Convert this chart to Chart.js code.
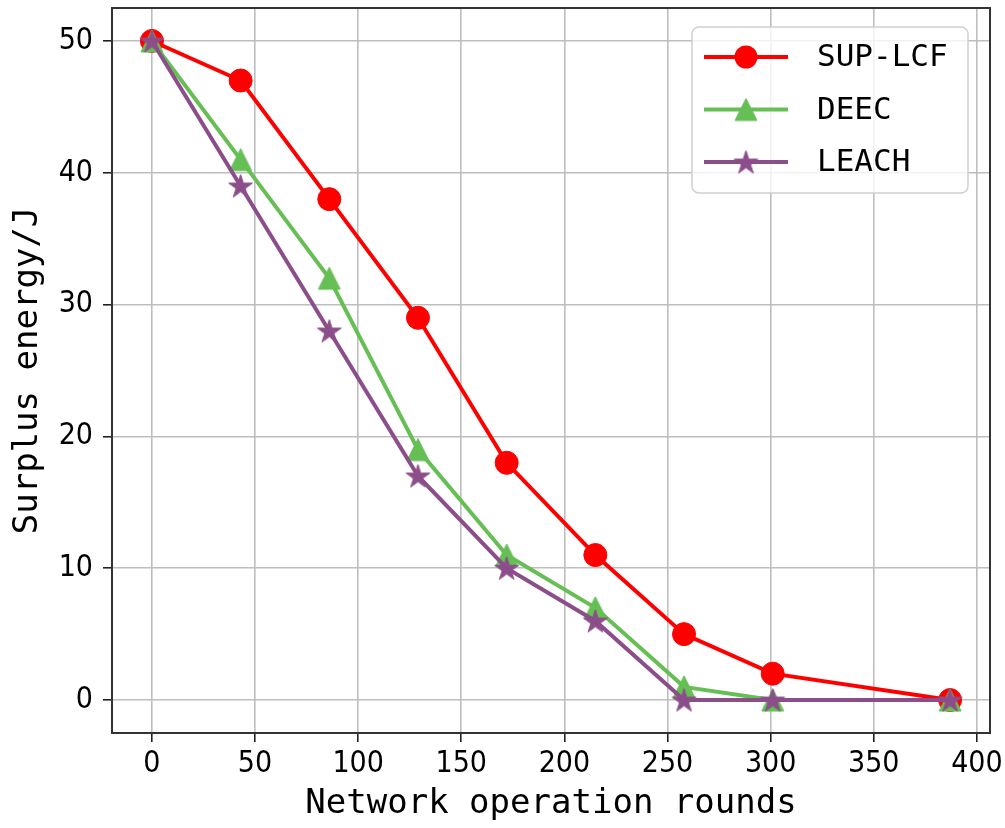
<!DOCTYPE html>
<html><head><meta charset="utf-8">
<style>html,body{margin:0;padding:0;background:#fff;overflow:hidden}#wrap{width:1005px;height:828px}</style>
<script src="https://cdn.jsdelivr.net/npm/chart.js@4.4.0/dist/chart.umd.min.js"></script>
</head><body><div id="wrap"><canvas id="c" width="1005" height="828"></canvas></div>
<script>
const rounds = [0, 43, 86, 129, 172, 215, 258, 301, 387];
const supLcf = [50, 47, 38, 29, 18, 11, 5, 2, 0];
const deec   = [50, 41, 32, 19, 11, 7, 1, 0, 0];
const leach  = [50, 39, 28, 17, 10, 6, 0, 0, 0];
const seriesNames = ['SUP-LCF', 'DEEC', 'LEACH'];
const xTickValues = [0, 50, 100, 150, 200, 250, 300, 350, 400];
const yTickValues = [0, 10, 20, 30, 40, 50];
const xTitle = 'Network operation rounds';
const yTitle = 'Surplus energy/J';

const RED = '#ff0000', GREEN = '#66bf55', PURPLE = '#8c4e8a';

function starImg(color, R) {
  const s = Math.ceil(R * 2 + 4);
  const c = document.createElement('canvas'); c.width = c.height = s;
  const g = c.getContext('2d'); g.translate(s / 2, s / 2 + 1);
  g.beginPath();
  for (let i = 0; i < 10; i++) {
    const r = i % 2 ? R * 0.382 : R;
    const a = -Math.PI / 2 + i * Math.PI / 5;
    const px = Math.cos(a) * r, py = Math.sin(a) * r;
    i ? g.lineTo(px, py) : g.moveTo(px, py);
  }
  g.closePath(); g.fillStyle = color; g.fill();
  g.lineWidth = 1; g.strokeStyle = color; g.stroke();
  return c;
}
function triImg(color, w) {
  const s = Math.ceil(w + 4);
  const c = document.createElement('canvas'); c.width = c.height = s;
  const g = c.getContext('2d'); g.translate(s / 2, s / 2);
  g.beginPath(); g.moveTo(0, -w / 2); g.lineTo(-w / 2, w / 2); g.lineTo(w / 2, w / 2); g.closePath();
  g.fillStyle = color; g.fill(); g.lineWidth = 1; g.strokeStyle = color; g.stroke();
  return c;
}
const starPt = starImg(PURPLE, 12.5);
const triPt = triImg(GREEN, 22);

const toXY = (ys) => ys.map((v, i) => ({x: rounds[i], y: v}));

const tickFont = {family: "'DejaVu Sans Condensed', 'DejaVu Sans', sans-serif", size: 30};
const titleFont = {family: "'DejaVu Sans Mono', monospace", size: 34};
const legendFont = "31px 'DejaVu Sans Mono', monospace";

const framePlugin = {
  id: 'frame',
  afterDatasetsDraw(chart) {
    const {ctx, chartArea: a} = chart;
    ctx.save();
    ctx.strokeStyle = '#333'; ctx.lineWidth = 2;
    ctx.strokeRect(a.left, a.top, a.right - a.left, a.bottom - a.top);
    // legend
    const bx = a.right - 298, by = a.top + 19, bw = 276, bh = 166, rr = 7;
    ctx.beginPath();
    ctx.roundRect(bx, by, bw, bh, rr);
    ctx.fillStyle = 'rgba(255,255,255,0.8)'; ctx.fill();
    ctx.strokeStyle = '#d0d0d0'; ctx.lineWidth = 1.5; ctx.stroke();
    chart.data.datasets.forEach((ds, i) => {
      const y = by + 30 + i * 52.5;
      ctx.strokeStyle = ds.borderColor; ctx.lineWidth = 4;
      ctx.beginPath(); ctx.moveTo(bx + 12, y); ctx.lineTo(bx + 96, y); ctx.stroke();
      const cx = bx + 54;
      if (ds.pointStyle === 'circle') {
        ctx.beginPath(); ctx.arc(cx, y, ds.pointRadius, 0, Math.PI * 2);
        ctx.fillStyle = ds.pointBackgroundColor; ctx.fill();
      } else {
        const img = ds.pointStyle;
        ctx.drawImage(img, cx - img.width / 2, y - img.height / 2);
      }
      ctx.fillStyle = '#000'; ctx.font = legendFont; ctx.textBaseline = 'middle'; ctx.textAlign = 'left';
      ctx.fillText(ds.label, bx + 125, y + 1);
    });
    ctx.restore();
  }
};

new Chart(document.getElementById('c'), {
  type: 'line',
  data: {
    datasets: [
      {label: seriesNames[0], data: toXY(supLcf), borderColor: RED, backgroundColor: RED,
       pointStyle: 'circle', pointRadius: 11.5, pointBackgroundColor: RED, pointBorderColor: RED, pointBorderWidth: 1, order: 2},
      {label: seriesNames[1], data: toXY(deec), borderColor: GREEN, backgroundColor: GREEN,
       pointStyle: triPt, pointRadius: 11, pointBackgroundColor: GREEN, pointBorderColor: GREEN, order: 1},
      {label: seriesNames[2], data: toXY(leach), borderColor: PURPLE, backgroundColor: PURPLE,
       pointStyle: starPt, pointRadius: 12, pointBackgroundColor: PURPLE, pointBorderColor: PURPLE, order: 0}
    ]
  },
  options: {
    responsive: false, animation: false, events: [],
    elements: {line: {borderWidth: 4, tension: 0, fill: false}},
    layout: {autoPadding: false, padding: {left: 0, top: 8, right: 15, bottom: 0}},
    plugins: {legend: {display: false}, tooltip: {enabled: false}},
    scales: {
      x: {
        type: 'linear', min: -19.35, max: 406.35,
        afterBuildTicks: (s) => { s.ticks = xTickValues.map(v => ({value: v})); },
        afterFit: (s) => { s.height = 95; s.paddingLeft = 0; s.paddingRight = 0; },
        ticks: {font: tickFont, color: '#000', padding: 4, autoSkip: false, maxRotation: 0, includeBounds: false},
        grid: {color: '#bebebe', lineWidth: 1.6, tickColor: '#222', tickLength: 9, drawTicks: true},
        border: {display: true, color: '#333', width: 2},
        title: {display: true, text: xTitle, font: titleFont, color: '#000', padding: {top: 0, bottom: 3}}
      },
      y: {
        type: 'linear', min: -2.5, max: 52.5,
        afterBuildTicks: (s) => { s.ticks = yTickValues.map(v => ({value: v})); },
        afterFit: (s) => { s.width = 112; s.paddingTop = 0; s.paddingBottom = 0; },
        ticks: {font: tickFont, color: '#000', padding: 10, autoSkip: false, includeBounds: false},
        grid: {color: '#bebebe', lineWidth: 1.6, tickColor: '#222', tickLength: 9, drawTicks: true},
        border: {display: true, color: '#333', width: 2},
        title: {display: true, text: yTitle, font: titleFont, color: '#000', padding: {top: 8, bottom: 0}}
      }
    }
  },
  plugins: [framePlugin]
});
</script></body></html>
